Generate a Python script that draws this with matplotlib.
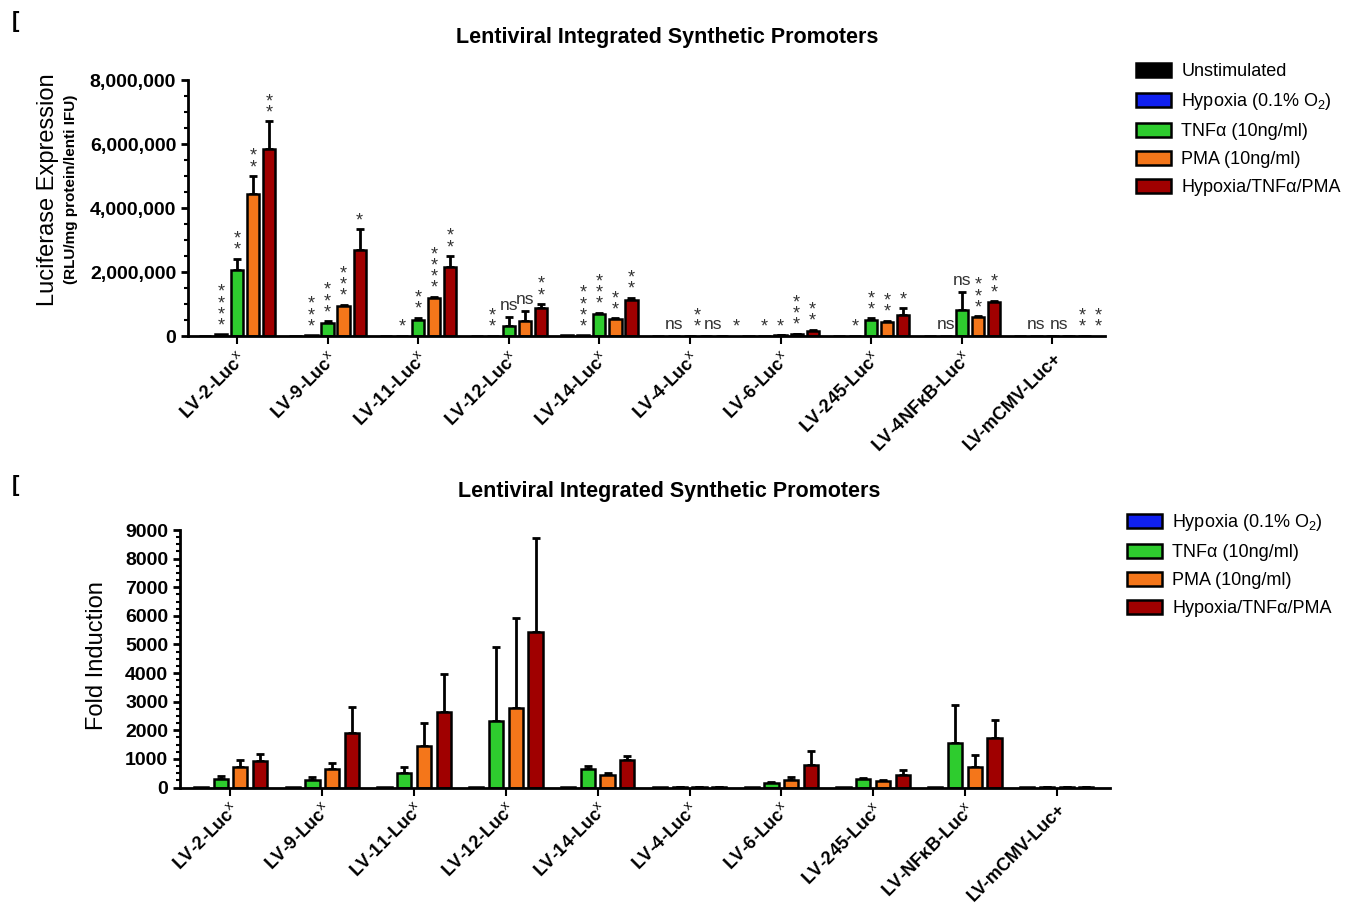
import matplotlib
matplotlib.use('Agg')
import matplotlib.pyplot as plt
import numpy as np
from matplotlib.patches import Patch
from matplotlib.ticker import MultipleLocator, StrMethodFormatter

plt.rcParams['font.family'] = ['Liberation Sans', 'DejaVu Sans']
plt.rcParams['mathtext.fontset'] = 'custom'
plt.rcParams['mathtext.rm'] = 'Liberation Sans'
plt.rcParams['mathtext.bf'] = 'Liberation Sans:bold'

# promoters on the x axis
sup = '$^{\\mathrm{x}}$'
top_labels = ['LV-2-Luc' + sup, 'LV-9-Luc' + sup, 'LV-11-Luc' + sup, 'LV-12-Luc' + sup,
              'LV-14-Luc' + sup, 'LV-4-Luc' + sup, 'LV-6-Luc' + sup, 'LV-245-Luc' + sup,
              'LV-4NF\u03baB-Luc' + sup, 'LV-mCMV-Luc+']
bottom_labels = ['LV-2-Luc' + sup, 'LV-9-Luc' + sup, 'LV-11-Luc' + sup, 'LV-12-Luc' + sup,
                 'LV-14-Luc' + sup, 'LV-4-Luc' + sup, 'LV-6-Luc' + sup, 'LV-245-Luc' + sup,
                 'LV-NF\u03baB-Luc' + sup, 'LV-mCMV-Luc+']

series_names = ['Unstimulated', 'Hypoxia (0.1% O$_2$)', 'TNF\u03b1 (10ng/ml)', 'PMA (10ng/ml)', 'Hypoxia/TNF\u03b1/PMA']
colors = ['#000000', '#1020f0', '#2ecc2e', '#f4761a', '#a00000']

# luciferase expression (RLU/mg protein/lenti IFU): mean and top of error bar
unstim = [15000, 10000, 8000, 5000, 20000, 2000, 3000, 15000, 10000, 3000]
hypoxia = [50000, 25000, 10000, 10000, 20000, 3000, 12000, 15000, 10000, 3000]
tnf = [2060000, 410000, 500000, 310000, 680000, 3000, 20000, 490000, 800000, 3000]
pma = [4450000, 950000, 1200000, 460000, 520000, 3000, 60000, 440000, 600000, 3000]
mix = [5830000, 2690000, 2160000, 870000, 1110000, 3000, 150000, 670000, 1060000, 3000]
unstim_top = unstim
hypoxia_top = hypoxia
tnf_top = [2420000, 460000, 570000, 580000, 720000, 3000, 25000, 550000, 1370000, 3000]
pma_top = [5000000, 970000, 1220000, 770000, 550000, 3000, 75000, 470000, 620000, 3000]
mix_top = [6710000, 3340000, 2500000, 1000000, 1190000, 3000, 190000, 870000, 1080000, 3000]

# significance marks
hypoxia_sig = ['****', '***', '*', '**', '****', 'ns', '*', '*', 'ns', 'ns']
tnf_sig = ['**', '***', '**', 'ns', '***', '**', '*', '**', 'ns', 'ns']
pma_sig = ['**', '***', '****', 'ns', '**', 'ns', '***', '**', '***', '**']
mix_sig = ['**', '*', '**', '**', '**', '*', '**', '*', '**', '**']

# fold induction
fi_hypoxia = [10, 5, 5, 10, 10, 15, 10, 10, 5, 2]
fi_tnf = [290, 260, 510, 2320, 640, 20, 150, 290, 1540, 2]
fi_pma = [710, 630, 1450, 2770, 450, 20, 270, 230, 710, 20]
fi_mix = [940, 1920, 2630, 5440, 960, 15, 800, 430, 1720, 2]
fi_hypoxia_top = fi_hypoxia
fi_tnf_top = [390, 360, 730, 4900, 760, 20, 190, 340, 2880, 2]
fi_pma_top = [950, 870, 2270, 5930, 520, 20, 380, 250, 1140, 20]
fi_mix_top = [1170, 2800, 3950, 8710, 1090, 15, 1280, 600, 2360, 2]


def style_axis(ax):
    for s in ['top', 'right']:
        ax.spines[s].set_visible(False)
    for s in ['left', 'bottom']:
        ax.spines[s].set_linewidth(2)
    ax.tick_params(axis='y', which='major', direction='out', length=5, width=2, labelsize=14)
    ax.tick_params(axis='y', which='minor', direction='out', length=3, width=1.5)
    ax.tick_params(axis='x', direction='out', length=6, width=1.5, labelsize=13)
    for t in ax.get_yticklabels():
        t.set_fontweight('bold')


def draw_bars(ax, means, tops, cols, width, step):
    n = len(means)
    x = np.arange(len(means[0]))
    pos = []
    for i in range(n):
        xi = x + (i - (n - 1) / 2) * step
        m = np.array(means[i])
        e = np.array(tops[i]) - m
        ax.bar(xi, m, width, color=cols[i], edgecolor='black', linewidth=1.8, zorder=2)
        if e.max() > 0:
            ax.errorbar(xi, m, yerr=[np.zeros_like(e), e], fmt='none', ecolor='black',
                        elinewidth=2, capsize=3, capthick=2, zorder=1)
        pos.append(xi)
    return pos


fig = plt.figure(figsize=(13.62, 9.05), dpi=100)

# ---- top chart
ax1 = fig.add_axes([188/1362, 1-336/905, (1105-188)/1362, (336-80)/905])
pos = draw_bars(ax1, [unstim, hypoxia, tnf, pma, mix],
                [unstim_top, hypoxia_top, tnf_top, pma_top, mix_top], colors, 0.135, 0.177)
ax1.set_xlim(-0.54, 9.58)
ax1.set_ylim(0, 8000000)
ax1.yaxis.set_major_locator(MultipleLocator(2000000))
ax1.yaxis.set_minor_locator(MultipleLocator(500000))
ax1.yaxis.set_major_formatter(StrMethodFormatter('{x:,.0f}'))
ax1.set_xticks(np.arange(10))
ax1.set_xticklabels(top_labels, rotation=45, ha='right', rotation_mode='anchor', fontweight='bold')
style_axis(ax1)

sigs = [hypoxia_sig, tnf_sig, pma_sig, mix_sig]
tops = [hypoxia_top, tnf_top, pma_top, mix_top]
for j in range(10):
    shift = 0
    for k in range(4):
        lab = sigs[k][j]
        # push crowded labels right, like the original layout
        if k > 0 and sigs[k - 1][j] == 'ns' and abs(tops[k][j] - tops[k - 1][j]) < 100000:
            shift += 5
        if lab == 'ns':
            ax1.annotate('ns', (pos[k + 1][j], tops[k][j]), xytext=(shift, 3), textcoords='offset points',
                         ha='center', va='bottom', fontsize=12.5, color='#333333')
        else:
            ax1.annotate('\n'.join('*' * len(lab)), (pos[k + 1][j], tops[k][j]), xytext=(shift, 0),
                         textcoords='offset points', ha='center', va='bottom', fontsize=13,
                         linespacing=0.55, color='#333333')

fig.text(667/1362, 1-38/905, 'Lentiviral Integrated Synthetic Promoters', ha='center', va='center',
         fontsize=15.5, fontweight='bold')
fig.text(48/1362, 1-190/905, 'Luciferase Expression', rotation=90, ha='center', va='center', fontsize=17)
fig.text(71/1362, 1-189/905, '(RLU/mg protein/lenti IFU)', rotation=90, ha='center', va='center',
         fontsize=11, fontweight='bold')

handles = [Patch(facecolor=c, edgecolor='black', linewidth=1.8) for c in colors]
fig.legend(handles, series_names, loc='upper left', bbox_to_anchor=(1120/1362, 1-47/905), frameon=False,
           fontsize=13, handlelength=1.9, handleheight=0.8, labelspacing=0.6, handletextpad=0.6)

# ---- bottom chart
ax2 = fig.add_axes([180/1362, 1-787.5/905, (1110-180)/1362, (787.5-530)/905])
draw_bars(ax2, [fi_hypoxia, fi_tnf, fi_pma, fi_mix],
          [fi_hypoxia_top, fi_tnf_top, fi_pma_top, fi_mix_top], colors[1:], 0.155, 0.215)
ax2.set_xlim(-0.55, 9.58)
ax2.set_ylim(0, 9000)
ax2.yaxis.set_major_locator(MultipleLocator(1000))
ax2.yaxis.set_minor_locator(MultipleLocator(250))
ax2.set_xticks(np.arange(10))
ax2.set_xticklabels(bottom_labels, rotation=45, ha='right', rotation_mode='anchor', fontweight='bold')
style_axis(ax2)

fig.text(669/1362, 1-491/905, 'Lentiviral Integrated Synthetic Promoters', ha='center', va='center',
         fontsize=15.5, fontweight='bold')
fig.text(97/1362, 1-656/905, 'Fold Induction', rotation=90, ha='center', va='center', fontsize=17)

fig.legend(handles[1:], series_names[1:], loc='upper left', bbox_to_anchor=(1111/1362, 1-496/905),
           frameon=False, fontsize=13, handlelength=1.9, handleheight=0.8, labelspacing=0.6,
           handletextpad=0.6)

fig.text(12/1362, 1-22/905, '[', fontsize=16, fontweight='bold', va='center')
fig.text(12/1362, 1-485/905, '[', fontsize=16, fontweight='bold', va='center')

fig.savefig('out.png', dpi=100)
